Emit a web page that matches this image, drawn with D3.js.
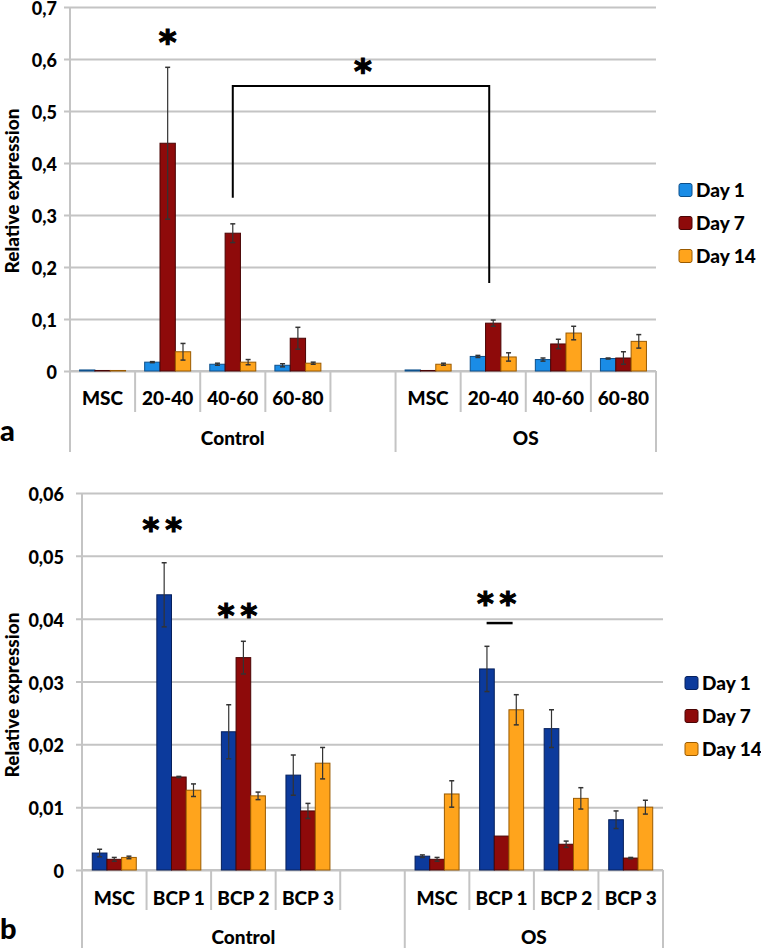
<!DOCTYPE html>
<html><head><meta charset="utf-8">
<script src="https://cdn.jsdelivr.net/npm/d3@7"></script>
<style>
body{margin:0;background:#fff;}
text{font-family:Lato,"Open Sans",sans-serif;font-weight:900;fill:#000;}
</style>
</head><body>
<svg id="c" width="761" height="952"></svg>
<script>
// ---------- DATA ----------
const seriesNames = ["Day 1", "Day 7", "Day 14"];
const groupNames = ["Control", "OS"];
const groupSizes = [5, 4];

const catsA = ["MSC", "20-40", "40-60", "60-80", "", "MSC", "20-40", "40-60", "60-80"];
const a_day1 = [0.002, 0.017, 0.013, 0.011, null, 0.002, 0.028, 0.022, 0.024];
const a_day1_err = [0, 0.001, 0.002, 0.003, null, 0, 0.002, 0.003, 0.001];
const a_day7 = [0.001, 0.438, 0.265, 0.063, null, 0.001, 0.092, 0.052, 0.025];
const a_day7_err = [0, 0.146, 0.018, 0.021, null, 0, 0.006, 0.009, 0.012];
const a_day14 = [0.001, 0.037, 0.017, 0.015, null, 0.013, 0.027, 0.073, 0.057];
const a_day14_err = [0, 0.016, 0.005, 0.002, null, 0.002, 0.008, 0.013, 0.013];
const ticksA = [0, 0.1, 0.2, 0.3, 0.4, 0.5, 0.6, 0.7];

const catsB = ["MSC", "BCP 1", "BCP 2", "BCP 3", "", "MSC", "BCP 1", "BCP 2", "BCP 3"];
const b_day1 = [0.0027, 0.0438, 0.022, 0.0151, null, 0.0022, 0.032, 0.0225, 0.008];
const b_day1_err = [0.0006, 0.0051, 0.0043, 0.0032, null, 0.0002, 0.0036, 0.003, 0.0014];
const b_day7 = [0.0017, 0.0148, 0.0338, 0.0094, null, 0.0017, 0.0054, 0.0041, 0.0019];
const b_day7_err = [0.0003, 0.0001, 0.0026, 0.0012, null, 0.0003, 0, 0.0005, 0.0001];
const b_day14 = [0.002, 0.0127, 0.0118, 0.017, null, 0.0121, 0.0255, 0.0114, 0.01];
const b_day14_err = [0.0002, 0.001, 0.0006, 0.0025, null, 0.0021, 0.0024, 0.0017, 0.0011];
const ticksB = [0, 0.01, 0.02, 0.03, 0.04, 0.05, 0.06];

const colorsA = ["#1a8ce6", "#8e0a0a", "#ffa41c"];
const colorsB = ["#0c3a9c", "#8e0a0a", "#ffa41c"];
const strokesA = ["#0d4f8a", "#4a0505", "#9a5a00"];
const strokesB = ["#06205c", "#4a0505", "#9a5a00"];

// ---------- DRAW ----------
const svg = d3.select("#c");
const locale = d3.formatLocale({decimal: ",", thousands: ".", grouping: [3], currency: ["", "€"]});

function panel(cfg) {
  const g = svg.append("g");
  const x = d3.scaleBand().domain(d3.range(cfg.cats.length)).range([cfg.left, cfg.right]).padding(0);
  const y = d3.scaleLinear().domain([0, cfg.max]).range([cfg.bottom, cfg.top]);
  const slot = x.bandwidth();
  const x1 = d3.scaleBand().domain(d3.range(3)).range([(slot - cfg.groupW) / 2, (slot + cfg.groupW) / 2]).padding(0);

  // y axis with gridlines
  const fmt = d => d === 0 ? "0" : locale.format(cfg.fmt)(d);
  const ax = d3.axisLeft(y).tickValues(cfg.ticks).tickFormat(fmt)
    .tickSizeInner(-(cfg.right - cfg.left)).tickSizeOuter(0).tickPadding(cfg.tickPad);
  const ag = g.append("g").attr("transform", `translate(${cfg.left},0)`).call(ax);
  ag.select(".domain").remove();
  ag.selectAll(".tick line").attr("x1", -6).attr("stroke", "#c4c4c4").attr("stroke-width", 2);
  ag.selectAll(".tick text").style("font-size", cfg.tickFont + "px").attr("fill", "#000").attr("dy", "0.42em")
    .style("font-family", "Lato, sans-serif").style("font-weight", 900);

  // axis line (vertical) and category frame
  const catBottom = cfg.bottom + cfg.catH;
  const grpBottom = cfg.bottom + cfg.grpH;
  g.append("line").attr("x1", cfg.left).attr("x2", cfg.left).attr("y1", y(cfg.max)).attr("y2", grpBottom)
    .attr("stroke", "#c4c4c4").attr("stroke-width", 2);
  g.append("line").attr("x1", cfg.left).attr("x2", cfg.right).attr("y1", cfg.bottom).attr("y2", cfg.bottom)
    .attr("stroke", "#c4c4c4").attr("stroke-width", 2);
  // boundaries
  const groupStarts = [0];
  groupSizes.forEach((s, i) => groupStarts.push(groupStarts[i] + s));
  for (let i = 1; i <= cfg.cats.length; i++) {
    const xb = i < cfg.cats.length ? x(i) : cfg.right;
    const isGroup = groupStarts.includes(i);
    g.append("line").attr("x1", xb).attr("x2", xb).attr("y1", cfg.bottom).attr("y2", isGroup ? grpBottom : catBottom)
      .attr("stroke", "#c4c4c4").attr("stroke-width", 2);
  }
  // category labels
  g.selectAll(".cat").data(cfg.cats).enter().append("text")
    .attr("x", (d, i) => x(i) + slot / 2).attr("y", cfg.bottom + cfg.catText)
    .attr("text-anchor", "middle").style("font-size", cfg.catFont + "px").text(d => d);
  // group labels
  groupNames.forEach((n, i) => {
    const xs = x(groupStarts[i]);
    const xe = groupStarts[i + 1] < cfg.cats.length ? x(groupStarts[i + 1]) : cfg.right;
    g.append("text").attr("x", (xs + xe) / 2).attr("y", cfg.bottom + cfg.grpText)
      .attr("text-anchor", "middle").style("font-size", cfg.catFont + "px").text(n);
  });

  // bars
  cfg.series.forEach((vals, s) => {
    const errs = cfg.errs[s];
    const data = vals.map((v, i) => ({v, e: errs[i], i})).filter(d => d.v !== null);
    g.selectAll(".bar" + s).data(data).enter().append("rect")
      .attr("x", d => x(d.i) + x1(s)).attr("width", x1.bandwidth())
      .attr("y", d => y(d.v)).attr("height", d => cfg.bottom - y(d.v))
      .attr("fill", cfg.colors[s]).attr("stroke", cfg.strokes[s]).attr("stroke-width", 1);
    const eb = data.filter(d => d.e > 0);
    const cx = d => x(d.i) + x1(s) + x1.bandwidth() / 2;
    g.selectAll(".err" + s).data(eb).enter().append("line")
      .attr("x1", cx).attr("x2", cx).attr("y1", d => y(d.v - d.e)).attr("y2", d => y(d.v + d.e))
      .attr("stroke", "#333").attr("stroke-width", 1.2);
    [1, -1].forEach(k => {
      g.selectAll(".cap" + s + k).data(eb).enter().append("line")
        .attr("x1", d => cx(d) - 2.5).attr("x2", d => cx(d) + 2.5)
        .attr("y1", d => y(d.v + k * d.e)).attr("y2", d => y(d.v + k * d.e))
        .attr("stroke", "#333").attr("stroke-width", 1.5);
    });
  });

  // legend
  seriesNames.forEach((n, s) => {
    const cy = cfg.legY + s * 33;
    g.append("rect").attr("x", cfg.legX).attr("y", cy - 6.5).attr("width", 13).attr("height", 13)
      .attr("rx", 2).attr("fill", cfg.colors[s]).attr("stroke", cfg.strokes[s]);
    g.append("text").attr("x", cfg.legX + 17).attr("y", cy + 6.5).style("font-size", cfg.legFont + "px").text(n);
  });

  // y title
  g.append("text").attr("transform", `translate(${cfg.titleX},${cfg.titleY}) rotate(-90)`)
    .attr("text-anchor", "middle").style("font-size", cfg.titleFont + "px").text("Relative expression");
  // panel letter
  g.append("text").attr("x", 0).attr("y", cfg.letterY).style("font-size", "29px").text(cfg.letter);

  return {g, x, y, x1, slot};
}

// Panel a
const A = panel({
  cats: catsA, series: [a_day1, a_day7, a_day14], errs: [a_day1_err, a_day7_err, a_day14_err],
  left: 70, right: 656, top: 7, bottom: 371, max: 0.7, ticks: ticksA, fmt: ".1f",
  groupW: 46, tickPad: 13, tickFont: 18, catFont: 19, legFont: 19, catH: 41, grpH: 81, catText: 34, grpText: 74,
  colors: colorsA, strokes: strokesA, legX: 679, legY: 190, titleX: 19, titleY: 191, titleFont: 19,
  letter: "a", letterY: 441
});
// Panel b
const B = panel({
  cats: catsB, series: [b_day1, b_day7, b_day14], errs: [b_day1_err, b_day7_err, b_day14_err],
  left: 82, right: 663, top: 493, bottom: 870, max: 0.06, ticks: ticksB, fmt: ".2f",
  groupW: 44, tickPad: 18, tickFont: 18, catFont: 19, legFont: 19, catH: 40, grpH: 78, catText: 35, grpText: 74,
  colors: colorsB, strokes: strokesB, legX: 685, legY: 683, titleX: 19, titleY: 695, titleFont: 19,
  letter: "b", letterY: 939
});

// ---------- ANNOTATIONS ----------
function barX(P, i, s) { return P.x(i) + P.x1(s) + P.x1.bandwidth() / 2; }
function star(P, xx, v, txt, size, ls) {
  P.g.append("text").attr("x", xx).attr("y", P.y(v)).attr("text-anchor", "middle")
    .style("font-size", size + "px").style("letter-spacing", ls + "px").style("font-family", "DejaVu Sans")
    .style("font-weight", 700).attr("stroke", "#000").attr("stroke-width", 1.2).text(txt);
}
// a: star over Control 20-40 Day 7
star(A, barX(A, 1, 1), 0.61, "*", 34, 0);
// a: bracket between Control 40-60 Day 7 and OS 20-40 Day 7
const bx1 = barX(A, 2, 1), bx2 = barX(A, 6, 1) - 4;
A.g.append("path")
  .attr("d", `M${bx1},${A.y(0.333)}V${A.y(0.548)}H${bx2}V${A.y(0.169)}`)
  .attr("fill", "none").attr("stroke", "#000").attr("stroke-width", 2);
star(A, (bx1 + bx2) / 2 + 2, 0.553, "*", 34, 0);

// b: double stars
star(B, barX(B, 1, 0) + 1, 0.0525, "**", 32, 6);
star(B, barX(B, 2, 1) - 3, 0.0388, "**", 32, 6);
star(B, barX(B, 6, 1) - 2, 0.0408, "**", 32, 6);
const lx = barX(B, 6, 1) - 2;
B.g.append("line").attr("x1", lx - 13).attr("x2", lx + 13).attr("y1", B.y(0.0393)).attr("y2", B.y(0.0393))
  .attr("stroke", "#000").attr("stroke-width", 2.5);
</script>
</body></html>
